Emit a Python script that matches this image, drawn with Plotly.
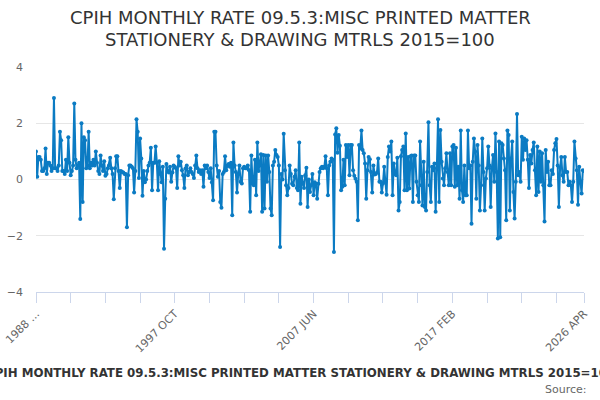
import pandas as pd
import plotly.graph_objects as go

# Monthly categories, 1988 FEB .. 2026 APR
months = [d.strftime("%Y %b").upper() for d in pd.date_range("1988-02-01", "2026-04-01", freq="MS")]

vals_a = [1.0, 0.1, 0.8, 0.8, 0.7, 0.3, 0.3, 0.4, 1.1, 0.2, 0.6, 0.6, 0.5, 0.3, 0.4, 2.9, 0.4, 0.4, 0.3, 0.5,
          1.7, 1.4, 0.3, 0.3, 0.2, 0.7, 0.3, 1.5, 0.6, 0.15, 0.3, 0.5, 2.7, 0.7, 0.4, 0.5, 0.6, -1.4, 2.0, -0.8,
          1.5, 1.4, 0.4, 0.5, 1.7, 0.4, 0.6, 0.5, 0.7, 0.5]
vals_b = [1.0, 0.6, 0.3, 0.2, 0.85, 0.5, 0.3, 0.65, 0.13, 0.2, 0.4, 0.5, 0.77, 0.4, 0.2, -0.7, 0.4, 0.83, 0.83, 0.3,
          -0.3, 0.3, 0.27, 0.25, 0.2, 0.2, -1.7, 0.15, 0.5, 0.5, 0.45, 0.4, -0.46, 0.3, 2.14, 1.7, 0.05, 1.46, 0.75, -0.58,
          0.3, -0.1, 0.0, 0.3, 0.5, 0.6, 1.13, -0.38, 0.6, 0.6]
vals_c = [1.17, 0.6, -0.38, 0.65, 0.2, -0.1, 0.45, -2.46, -0.68, 0.55, 0.3, 0.25, 0.45, -0.08, 0.25, 0.5, 0.45, 0.4, -0.3, 0.83,
          0.5, 0.63, 0.33, 0.15, -0.3, 0.4, 0.5, 0.15, 0.27, 0.4, 0.27, 0.2, 0.05, 0.5, 0.85, 0.4, 0.27, 0.33, 0.2, 0.33,
          -0.26, 0.5, 0.4, 0.5, 0.27, 0.05, 0.4, -0.1, -0.74, 1.7]
vals_d = [1.7, 0.5, 0.1, 0.3, -0.8, -1.0, 0.2, 0.27, 0.83, 0.33, 0.5, 0.55, 0.45, 0.6, -1.27, 1.32, 0.5, 0.27, -0.46, 0.2,
          0.5, -0.08, -0.14, 0.4, 0.45, 0.4, 0.4, 0.5, 0.33, -1.15, 0.85, -0.14, -0.2, 0.7, -0.56, 1.32, 0.3, 0.6, 0.9, -1.15,
          0.87, -1.03, 0.85, -0.08, 0.85, 0.27, -1.03, -1.27, 0.5, 0.63]
vals_e = [1.05, 0.87, 0.8, 0.5, -2.4, 0.2, 0.0, 1.63, 0.33, -0.2, -0.56, -0.3, 0.5, 0.2, -0.15, -0.2, 0.1, 0.33, -0.3, -0.38,
          1.32, -0.86, 0.1, -0.15, -0.3, 0.15, 0.42, -0.98, 0.0, -0.44, -0.2, 0.2, -0.56, -0.1, -0.15, -0.68, -0.15, 0.27, 0.4, 0.45,
          0.4, 0.45, 0.83, 0.4, -0.56, 0.5, 0.63, 0.75, 0.7, -2.58]
vals_f = [1.6, 1.82, 0.95, 1.58, 1.2, -0.38, -0.26, 0.7, -0.2, 1.23, 0.8, 1.23, 0.15, 1.23, 1.23, 0.33, 0.13, 0.03, -0.08, -1.45,
          1.23, 1.1, 1.74, 1.05, 0.93, 0.57, -0.68, 0.33, 0.8, 0.72, 0.27, -0.46, 0.5, 0.18, 0.2, 0.25, 0.75, -0.08, -0.08, -0.46,
          -0.14, 0.45, -0.08, -0.54, 0.8, 1.17, 1.0, 1.35, -0.56]
vals_g = [0.57, 0.2, 0.15, 0.77, -1.1, -0.8, 0.83, 1.05, 1.17, -0.38, 1.64, -0.38, 0.8, -0.32, 0.83, 0.85, -0.8, 0.85, 0.85, -0.08,
          -0.56, -0.8, 1.35, -0.2, -0.92, 0.63, -0.98, -1.1, 0.27, 2.04, -0.2, -0.8, 0.45, 0.33, 0.57, -1.15, 0.4, 2.14, -0.8, 1.76,
          0.63, 0.04, -0.2, 0.4, 0.93, 0.27, -0.2, 0.93, -0.2, 1.17]
vals_h = [1.23, -0.26, 1.13, -0.2, 0.45, -0.68, 1.74, -0.38, -0.8, 0.5, -0.56, -0.56, 1.74, 0.4, 0.5, -1.57, 0.63, 1.46, 1.0, -0.68,
          1.23, 0.5, -1.1, -0.2, 1.46, 0.27, -1.1, 0.04, 0.4, 1.17, 0.5, -0.98, 0.4, 0.87, -0.08, 1.64, 0.27, -2.1, 1.35, -2.05,
          1.29, 1.23, 0.75, 0.33, -1.45, 1.74, 1.58, -1.1, 0.75, 1.35, -0.44, -1.39]
vals_i = [-0.08, 2.33, 0.15, 0.27, -0.08, 1.52, 0.7, 1.46, 1.05, 1.4, 0.7, -0.3, 0.87, 0.57, 1.05, 1.32, 0.33, -0.56, 1.17, -0.44,
          1.0, -0.08, 0.93, -0.2, -1.49, 1.05, 0.27, 0.63, -0.2, -0.2, 0.33, 0.2, 1.05, 1.29, 1.44, 0.5, -0.98, 0.42, 0.8, 0.15,
          -0.08, 0.8, 0.27, 0.27, -0.2, -0.08, -0.2, -0.8, -0.08, 1.35, 0.75, 0.33, -0.9, 0.45, -0.08, -0.5, 0.33, 0.3]

rate = vals_a + vals_b + vals_c + vals_d + vals_e + vals_f + vals_g + vals_h + vals_i
n = min(len(rate), len(months))
months = months[:n]
rate = rate[:n]

tick_idx = list(range(0, n, 29)) + [n - 1]
label_every = 116
tick_text = []
for k in tick_idx:
    if k == 0:
        tick_text.append("1988 ...")
    elif k % label_every == 0 or k == n - 1:
        tick_text.append(months[k])
    else:
        tick_text.append("")

TITLE_1 = "CPIH MONTHLY RATE 09.5.3:MISC PRINTED MATTER"
TITLE_2 = "STATIONERY & DRAWING MTRLS 2015=100"
SERIES = "CPIH MONTHLY RATE 09.5.3:MISC PRINTED MATTER STATIONERY & DRAWING MTRLS 2015=100"
BLUE = "#0b7bc3"

T, PH, L, PW = 67, 225, 36, 548


def py(pix):
    return 1 + (T - pix) / PH


def px(pix):
    return (pix - L) / PW


fig = go.Figure()
fig.add_trace(go.Scatter(
    x=months, y=rate, mode="lines+markers",
    line=dict(color=BLUE, width=2),
    marker=dict(color=BLUE, size=4),
    name=SERIES, showlegend=False,
))

fig.update_layout(
    width=600, height=400,
    margin=dict(l=L, r=600 - L - PW, t=T, b=400 - T - PH, autoexpand=False),
    paper_bgcolor="white", plot_bgcolor="white",
    font=dict(family="DejaVu Sans", color="#666666", size=11),
    xaxis=dict(
        type="category", range=[0, n - 1], automargin=False,
        tickmode="array", tickvals=[months[k] for k in tick_idx], ticktext=tick_text,
        tickangle=-45, ticks="outside", ticklen=10, tickcolor="#ccd6eb", tickwidth=1,
        showline=True, linecolor="#ccd6eb", linewidth=1,
        showgrid=False, zeroline=False,
        tickfont=dict(size=11, color="#666666"),
    ),
    yaxis=dict(
        range=[-4, 4], tickvals=[-4, -2, 0, 2, 4], automargin=False,
        showgrid=True, gridcolor="#e6e6e6", gridwidth=1,
        zeroline=False, showline=False, ticks="",
        ticklabelstandoff=12,
        tickfont=dict(size=11, color="#666666"),
    ),
    annotations=[
        dict(text=TITLE_1, xref="paper", yref="paper", x=px(300), y=py(18),
             xanchor="center", yanchor="middle", showarrow=False,
             font=dict(family="DejaVu Sans", size=18, color="#333333")),
        dict(text=TITLE_2, xref="paper", yref="paper", x=px(300), y=py(39),
             xanchor="center", yanchor="middle", showarrow=False,
             font=dict(family="DejaVu Sans", size=18, color="#333333")),
        dict(text="<b>" + SERIES + "</b>", xref="paper", yref="paper",
             x=px(300), y=py(373), xanchor="center", yanchor="middle",
             showarrow=False, font=dict(family="DejaVu Sans", size=11.8, color="#333333")),
        dict(text="Source:", xref="paper", yref="paper",
             x=px(589), y=py(389), xanchor="right", yanchor="middle",
             showarrow=False, font=dict(family="DejaVu Sans", size=11, color="#666666")),
    ],
)

fig.write_html("out.html", config={"displayModeBar": False},
               post_script="document.body.style.margin='0';document.body.style.overflow='hidden';")
